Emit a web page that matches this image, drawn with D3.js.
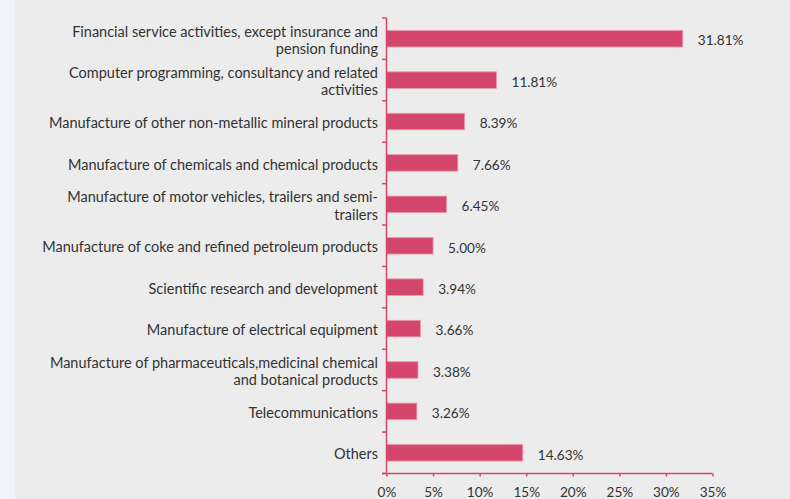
<!DOCTYPE html>
<html>
<head>
<meta charset="utf-8">
<script src="https://cdn.jsdelivr.net/npm/d3@7"></script>
<style>
  html, body { margin: 0; padding: 0; background: #ececec; }
  svg { display: block; }
</style>
</head>
<body>
<svg id="chart" width="790" height="499"></svg>
<script>
// Sector shares (%) — label lines are split where the chart wraps them
const categories = [
  ["Financial service activities, except insurance and", "pension funding"],
  ["Computer programming, consultancy and related", "activities"],
  ["Manufacture of other non-metallic mineral products"],
  ["Manufacture of chemicals and chemical products"],
  ["Manufacture of motor vehicles, trailers and semi-", "trailers"],
  ["Manufacture of coke and refined petroleum products"],
  ["Scientific research and development"],
  ["Manufacture of electrical equipment"],
  ["Manufacture of pharmaceuticals,medicinal chemical", "and botanical products"],
  ["Telecommunications"],
  ["Others"]
];
const values = [31.81, 11.81, 8.39, 7.66, 6.45, 5.00, 3.94, 3.66, 3.38, 3.26, 14.63];
const xTicks = [0, 5, 10, 15, 20, 25, 30, 35];

const svg = d3.select("#chart");
const W = 790, H = 499;
const barColor = "#d4476a";
const axisColor = "#d4476a";
const textColor = "#333333";
const font = "Lato, 'Open Sans', sans-serif";

// left page strip
svg.append("rect").attr("x", 0).attr("y", 0).attr("width", 15).attr("height", H).attr("fill", "#edf4fd");

const x0 = 386.5, x1 = 712.5, y0 = 18, y1 = 473.5;
const x = d3.scaleLinear().domain([0, 35]).range([x0, x1]);
const idx = d3.range(values.length);
const y = d3.scaleBand().domain(idx).range([y0, y1]).paddingInner(0.6).paddingOuter(0.3);

// bars
svg.append("g").selectAll("rect").data(idx).join("rect")
  .attr("x", x(0))
  .attr("y", i => y(i))
  .attr("width", i => x(values[i]) - x(0))
  .attr("height", y.bandwidth())
  .attr("fill", barColor)
  .attr("stroke", "#ea9cb0")
  .attr("stroke-width", 0.8);

// value labels
svg.append("g").selectAll("text").data(idx).join("text")
  .attr("x", i => x(values[i]) + 15)
  .attr("y", i => y(i) + y.bandwidth() / 2 + 2)
  .attr("dy", "0.35em")
  .attr("font-family", font)
  .attr("font-size", 13.6)
  .attr("fill", textColor)
  .text(i => values[i].toFixed(2) + "%");

// category labels
const lab = svg.append("g").selectAll("text").data(idx).join("text")
  .attr("x", 378)
  .attr("text-anchor", "end")
  .attr("font-family", font)
  .attr("font-size", 14.5)
  .attr("fill", textColor);
lab.each(function(i) {
  const lines = categories[i];
  const cy = y(i) + y.bandwidth() / 2 + 1.5;
  const lh = 17.5;
  const t = d3.select(this);
  lines.forEach((ln, k) => {
    t.append("tspan")
      .attr("x", 378)
      .attr("y", cy + (k - (lines.length - 1) / 2) * lh)
      .attr("dy", "0.35em")
      .text(ln);
  });
});

// y axis with boundary ticks
const yAxis = svg.append("g");
yAxis.append("line").attr("x1", x0).attr("x2", x0).attr("y1", y0).attr("y2", y1)
  .attr("stroke", axisColor).attr("stroke-width", 1.5);
const bounds = d3.range(values.length + 1).map(k => y0 + k * (y1 - y0) / values.length);
yAxis.selectAll("line.t").data(bounds).join("line").attr("class", "t")
  .attr("x1", x0 - 4.5).attr("x2", x0).attr("y1", d => d).attr("y2", d => d)
  .attr("stroke", axisColor).attr("stroke-width", 1.5);

// x axis
const xAxis = d3.axisBottom(x).tickValues(xTicks).tickSize(3).tickSizeOuter(0).tickFormat(d => d + "%");
const gx = svg.append("g").attr("transform", `translate(0,${y1})`).call(xAxis);
gx.select(".domain").remove();
gx.append("line").attr("x1", x0 - 4.5).attr("x2", x1).attr("y1", 0).attr("y2", 0)
  .attr("stroke", axisColor).attr("stroke-width", 1.5);
gx.selectAll(".tick line").attr("stroke", axisColor).attr("stroke-width", 1.5);
gx.selectAll(".tick text")
  .attr("font-family", font).attr("font-size", 13.6).attr("fill", textColor)
  .attr("y", 14).attr("dy", "0.71em");
</script>
</body>
</html>
